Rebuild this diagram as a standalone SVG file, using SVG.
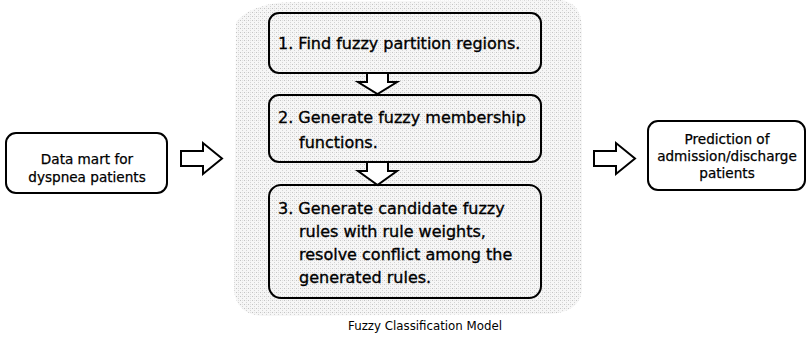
<svg xmlns="http://www.w3.org/2000/svg" width="810" height="342" viewBox="0 0 810 342">
<defs>
<pattern id="dither" width="4" height="4" patternUnits="userSpaceOnUse">
<rect width="4" height="4" fill="#f6f6f6"/>
<rect width="1" height="1" fill="#c4c4c4"/>
<rect x="2" y="2" width="1" height="1" fill="#d4d4d4"/>
<rect x="2" y="0" width="1" height="1" fill="#e0e0e0"/>
</pattern>
</defs>
<style>
.box{fill:none;stroke:#000;stroke-width:2}
.arr{fill:#fff;stroke:#000;stroke-width:2;stroke-linejoin:miter}
text{font-family:"DejaVu Sans","Liberation Sans",sans-serif;fill:#000}
.t15{font-size:16px;stroke:#000;stroke-width:0.35}
.t13{font-size:13.6px;stroke:#000;stroke-width:0.25}
.cap{font-size:11.8px}
.mid{text-anchor:middle}
</style>
<rect width="810" height="342" fill="#fff"/>
<path id="bg" d="M236 22 Q250 4 290 2 L560 0 Q582 2 582 30 L582 290 Q580 312 550 314 L262 316 Q236 314 234 290 Z" fill="url(#dither)"/>
<g id="connectors">
<path class="arr" d="M181 151 L203 151 L203 143 L222 158.5 L203 174 L203 166 L181 166 Z"/>
<path class="arr" d="M594 151 L616 151 L616 143 L635 158.5 L616 174 L616 166 L594 166 Z"/>
<path class="arr" d="M367 74 L367 82 L358 82 L377.5 94 L397 82 L388 82 L388 74"/>
<path class="arr" d="M367 163 L367 171 L358 171 L377.5 185 L397 171 L388 171 L388 163"/>
</g>
<g id="node-datamart">
<rect class="box" x="6" y="133" width="161" height="60" rx="10" fill="#fff"/>
<text class="t13 mid" x="87" y="164">Data mart for</text>
<text class="t13 mid" x="87" y="182">dyspnea patients</text>
</g>
<g id="node-step1">
<rect class="box" x="269" y="13" width="272" height="60" rx="10"/>
<text class="t15" x="278" y="49">1. Find fuzzy partition regions.</text>
</g>
<g id="node-step2">
<rect class="box" x="269" y="95" width="272" height="67" rx="10"/>
<text class="t15" x="278" y="123">2. Generate fuzzy membership</text>
<text class="t15" x="299" y="148">functions.</text>
</g>
<g id="node-step3">
<rect class="box" x="269" y="185" width="272" height="113" rx="12"/>
<text class="t15" x="278" y="214">3. Generate candidate fuzzy</text>
<text class="t15" x="299" y="237">rules with rule weights,</text>
<text class="t15" x="299" y="260">resolve conflict among the</text>
<text class="t15" x="299" y="283">generated rules.</text>
</g>
<g id="node-prediction">
<rect class="box" x="648" y="121" width="157" height="69" rx="10" fill="#fff"/>
<text class="t13 mid" x="727" y="144">Prediction of</text>
<text class="t13 mid" x="727" y="161">admission/discharge</text>
<text class="t13 mid" x="727" y="178">patients</text>
</g>
<text class="cap mid" x="425" y="330">Fuzzy Classification Model</text>
</svg>
